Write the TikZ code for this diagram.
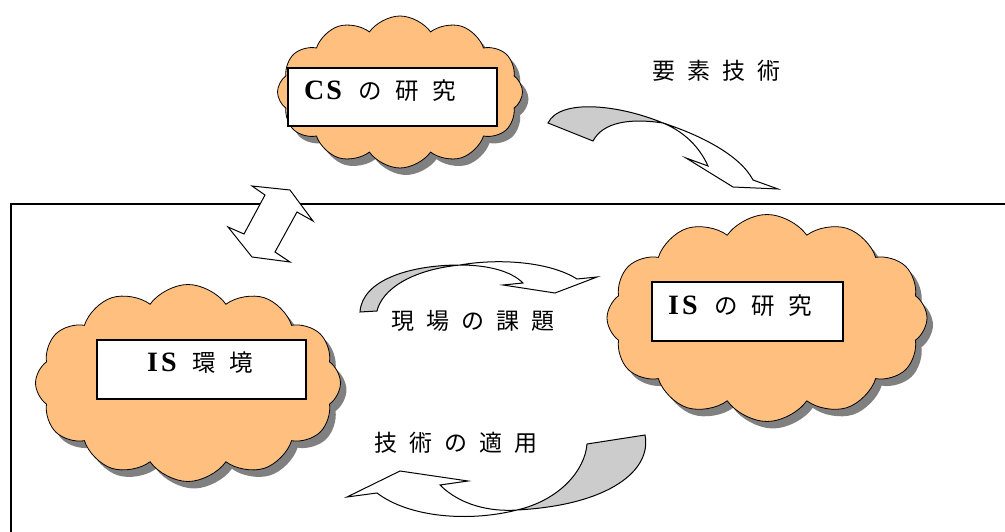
\documentclass[tikz,border=0pt]{standalone}
\usepackage{fontspec}
\setmainfont{Liberation Serif}
\newfontfamily\jp{Noto Sans CJK JP}
\usetikzlibrary{shapes.symbols,shadows}
\definecolor{cloudorange}{RGB}{255,191,127}
\definecolor{arrowgray}{RGB}{204,204,204}
\definecolor{shadowgray}{RGB}{128,128,128}
% fixed-pitch characters
\newcommand{\lc}[1]{\makebox[35pt][l]{#1}}
\newcommand{\bc}[1]{\makebox[37pt][l]{#1}}
\newcommand{\latin}[2]{\makebox[#1][l]{\rmfamily\bfseries\fontsize{28}{30}\selectfont #2}}
\begin{document}
\begin{tikzpicture}[x=1pt,y=-1pt,
  puff/.style={cloud, cloud puffs=12, cloud puff arc=110, cloud ignores aspect,
    draw=black, line width=0.8pt, fill=cloudorange, inner sep=0pt,
    drop shadow={shadow xshift=6pt, shadow yshift=-7pt, fill=shadowgray, opacity=1}},
  labelbox/.style={draw=black, line width=1.3pt, fill=white, inner sep=0pt},
  boxtext/.style={font=\jp\fontsize{23.5}{28}\selectfont, inner sep=0pt},
  lbltext/.style={font=\jp\fontsize{23}{27}\selectfont, inner sep=0pt},
  blockarrow/.style={draw=black, line width=1pt, fill=white, line join=miter},
  underside/.style={draw=black, line width=1pt, fill=arrowgray, line join=miter},
  frameline/.style={draw=black, line width=1.3pt}
]
\useasboundingbox (0,0) rectangle (1005,532);

% frame
\draw[frameline] (11,532) -- (11,204) -- (1005,204);

% double arrow
\draw[blockarrow] (252,186) -- (290,190) -- (313,221) -- (297,212) -- (275,252)
  -- (290,262) -- (252,257) -- (228,227) -- (244,234) -- (265,195) -- cycle;

% clouds
\node[puff, minimum width=245pt, minimum height=152pt] (cscloud) at (400,92) {};
\node[puff, minimum width=320pt, minimum height=207pt] (iscloud) at (767,318) {};
\node[puff, minimum width=305pt, minimum height=197pt] (envcloud) at (188,383) {};

% label boxes
\node[labelbox, minimum width=209pt, minimum height=58pt] (csbox) at (392.5,97) {};
\node[labelbox, minimum width=191pt, minimum height=59pt] (isbox) at (747.5,311.5) {};
\node[labelbox, minimum width=209pt, minimum height=59pt] (envbox) at (201.5,369.5) {};

\node[boxtext, anchor=west] (cstext) at (304,91) {\latin{54pt}{C\kern2pt S}\bc{の}\bc{研}\bc{究}};
\node[boxtext, anchor=west] (istext) at (668,306) {\latin{46pt}{I\kern3pt S}\bc{の}\bc{研}\bc{究}};
\node[boxtext, anchor=west] (envtext) at (147,363) {\latin{45pt}{I\kern3pt S}\bc{環}\bc{境}};

% arrow: 要素技術
\draw[underside] (548,123) -- (593,141) .. controls (603,122) and (630,118) .. (663,123)
  .. controls (620,105) and (560,98) .. cycle;
\draw[blockarrow] (663,123) .. controls (700,135) and (740,155) .. (753,180) -- (778,189)
  -- (733,187) -- (686,158) -- (708,166) .. controls (700,148) and (685,132) .. (663,123) -- cycle;

% arrow: 現場の課題
\draw[underside] (360,312) -- (377,311) .. controls (382,290) and (410,270) .. (460,265)
  .. controls (410,265) and (362,280) .. cycle;
\draw[blockarrow] (460,265) .. controls (500,258) and (550,262) .. (577,279) -- (597,277)
  -- (555,293) -- (503,285) -- (523,283) .. controls (510,270) and (485,265) .. (460,265) -- cycle;

% arrow: 技術の適用
\draw[underside] (587,444) -- (645,435) .. controls (652,470) and (610,505) .. (517,510)
  .. controls (560,500) and (585,470) .. cycle;
\draw[blockarrow] (517,510) .. controls (470,522) and (410,518) .. (377,493) -- (347,497)
  -- (400,471) -- (468,481) -- (440,485) .. controls (460,505) and (490,512) .. (517,510) -- cycle;

% labels
\node[lbltext, anchor=west] (l1) at (652,71) {\lc{要}\lc{素}\lc{技}\lc{術}};
\node[lbltext, anchor=west] (l2) at (391,321) {\lc{現}\lc{場}\lc{の}\lc{課}\lc{題}};
\node[lbltext, anchor=west] (l3) at (374,443) {\lc{技}\lc{術}\lc{の}\lc{適}\lc{用}};
\end{tikzpicture}
\end{document}
